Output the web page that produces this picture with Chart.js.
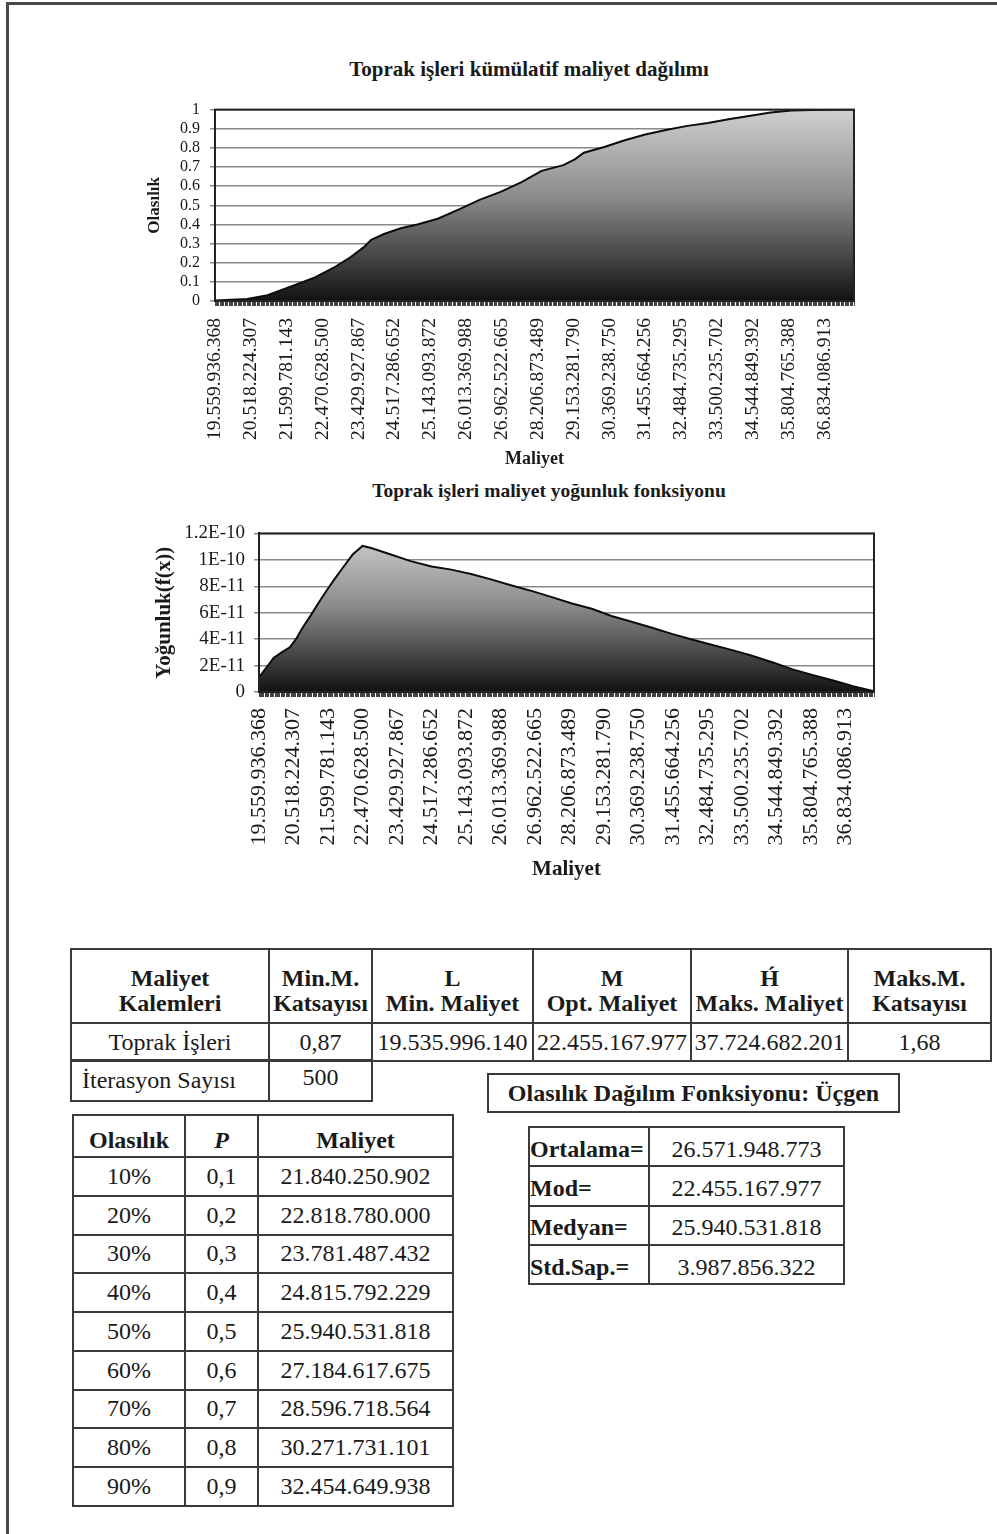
<!DOCTYPE html>
<html lang="tr">
<head>
<meta charset="utf-8">
<title>Toprak işleri maliyet analizi</title>
<script src="https://cdn.jsdelivr.net/npm/chart.js@4.4.1/dist/chart.umd.min.js"></script>
<style>
  html, body { margin: 0; padding: 0; background: #fff; }
  body {
    width: 997px; height: 1534px; position: relative; overflow: hidden;
    font-family: "Liberation Serif", "Times New Roman", serif; color: #1a1a1a;
  }
  .frame {
    position: absolute; left: 6px; top: 2px; right: -20px; bottom: -20px;
    border-left: 3px solid #4a4a4a; border-top: 3px solid #4a4a4a;
  }
  .ctitle {
    position: absolute; font-weight: bold; white-space: nowrap;
    transform: translate(-50%, -50%); line-height: 1;
  }
  .chartbox { position: absolute; left: 0; }
  table { position: absolute; border-collapse: collapse; table-layout: fixed; }
  td { border: 2px solid #3a3a3a; padding: 0; text-align: center; vertical-align: middle; white-space: nowrap; overflow: hidden; }
  .hdr td { font-weight: bold; font-size: 24px; line-height: 25px; padding-top: 10px; }
  .val td { font-size: 24px; }
  #tMain { left: 70px; top: 948px; width: 920px; }
  #tIter { left: 70px; top: 1059px; width: 301px; }
  #tIter td { font-size: 24px; height: 36px; }
  #distBox {
    position: absolute; left: 487px; top: 1073px; width: 409px; height: 36px;
    border: 2px solid #3a3a3a; font-weight: bold; font-size: 24px;
    display: flex; align-items: center; justify-content: center; white-space: nowrap;
  }
  #tPerc { left: 72px; top: 1114px; width: 380px; }
  #tPerc td { font-size: 24px; height: 36.75px; }
  #tPerc tr.hdr td { height: 32px; font-size: 24px; line-height: 26px; padding-top: 8px; }
  #tStat { left: 528px; top: 1126px; width: 315px; }
  #tStat td { font-size: 24px; height: 32.3px; padding-top: 5px; }
  #tStat td.lbl { font-weight: bold; text-align: left; }
</style>
</head>
<body>
<div class="frame"></div>

<div class="ctitle" style="left:529px; top:69px; font-size:21px;">Toprak işleri kümülatif maliyet dağılımı</div>
<div class="chartbox" style="top:90px;"><canvas id="cdfChart" width="997" height="385"></canvas></div>

<div class="ctitle" style="left:549px; top:491px; font-size:19.5px;">Toprak işleri maliyet yoğunluk fonksiyonu</div>
<div class="chartbox" style="top:513px;"><canvas id="pdfChart" width="997" height="382"></canvas></div>

<table id="tMain">
  <colgroup><col style="width:198px"><col style="width:103px"><col style="width:161px"><col style="width:158px"><col style="width:157px"><col style="width:143px"></colgroup>
  <tr class="hdr" style="height:74px">
    <td>Maliyet<br>Kalemleri</td><td>Min.M.<br>Katsayısı</td><td>L<br>Min. Maliyet</td>
    <td>M<br>Opt. Maliyet</td><td>H&#769;<br>Maks. Maliyet</td><td>Maks.M.<br>Katsayısı</td>
  </tr>
  <tr class="val" style="height:38px">
    <td>Toprak İşleri</td><td>0,87</td><td>19.535.996.140</td><td>22.455.167.977</td><td>37.724.682.201</td><td>1,68</td>
  </tr>
</table>

<table id="tIter">
  <colgroup><col style="width:198px"><col style="width:103px"></colgroup>
  <tr><td style="text-align:left; padding-left:10px;">İterasyon Sayısı</td><td style="vertical-align:top; padding-top:3px;">500</td></tr>
</table>

<div id="distBox">Olasılık Dağılım Fonksiyonu: Üçgen</div>

<table id="tPerc">
  <colgroup><col style="width:112px"><col style="width:73px"><col style="width:195px"></colgroup>
  <tr class="hdr"><td>Olasılık</td><td><i>P</i></td><td>Maliyet</td></tr>
  <tr><td>10%</td><td>0,1</td><td>21.840.250.902</td></tr>
  <tr><td>20%</td><td>0,2</td><td>22.818.780.000</td></tr>
  <tr><td>30%</td><td>0,3</td><td>23.781.487.432</td></tr>
  <tr><td>40%</td><td>0,4</td><td>24.815.792.229</td></tr>
  <tr><td>50%</td><td>0,5</td><td>25.940.531.818</td></tr>
  <tr><td>60%</td><td>0,6</td><td>27.184.617.675</td></tr>
  <tr><td>70%</td><td>0,7</td><td>28.596.718.564</td></tr>
  <tr><td>80%</td><td>0,8</td><td>30.271.731.101</td></tr>
  <tr><td>90%</td><td>0,9</td><td>32.454.649.938</td></tr>
</table>

<table id="tStat">
  <colgroup><col style="width:120px"><col style="width:195px"></colgroup>
  <tr><td class="lbl">Ortalama=</td><td>26.571.948.773</td></tr>
  <tr><td class="lbl">Mod=</td><td>22.455.167.977</td></tr>
  <tr><td class="lbl">Medyan=</td><td>25.940.531.818</td></tr>
  <tr><td class="lbl">Std.Sap.=</td><td>3.987.856.322</td></tr>
</table>

<script>
// Simulated cost values shown on the category axis (every 28th sorted sample)
const costLabels = [
  '19.559.936.368', '20.518.224.307', '21.599.781.143', '22.470.628.500',
  '23.429.927.867', '24.517.286.652', '25.143.093.872', '26.013.369.988',
  '26.962.522.665', '28.206.873.489', '29.153.281.790', '30.369.238.750',
  '31.455.664.256', '32.484.735.295', '33.500.235.702', '34.544.849.392',
  '35.804.765.388', '36.834.086.913'
];
const iterations = 500;
const labelEvery = 28;

// Cumulative probability by sample rank
const cdfRank = [0, 25, 41, 61, 77, 93, 106, 116, 122, 132, 145, 158, 174, 191, 207, 223, 239,
  255, 272, 281, 288, 304, 320, 336, 353, 369, 385, 401, 417, 434, 450, 466, 499];
const cdfProb = [0.003, 0.01, 0.03, 0.08, 0.12, 0.175, 0.23, 0.28, 0.32, 0.35, 0.38, 0.40, 0.43,
  0.48, 0.53, 0.57, 0.62, 0.68, 0.71, 0.74, 0.775, 0.805, 0.84, 0.87, 0.895, 0.915, 0.93, 0.95,
  0.967, 0.985, 0.995, 0.998, 1.0];

// Density f(x) by sample rank
const pdfRank = [0, 6, 12, 19, 25, 30, 35, 42, 48, 55, 61, 68, 76, 84, 91, 107, 123, 140, 156,
  172, 189, 205, 221, 237, 254, 270, 286, 303, 319, 335, 352, 368, 384, 400, 417, 433, 449, 466,
  482, 499];
const pdfDensity = [1.1e-11, 1.84e-11, 2.6e-11, 3.04e-11, 3.38e-11, 4.0e-11, 4.8e-11, 5.8e-11,
  6.7e-11, 7.7e-11, 8.5e-11, 9.4e-11, 10.4e-11, 11.05e-11, 10.9e-11, 10.4e-11, 9.9e-11, 9.5e-11,
  9.26e-11, 8.93e-11, 8.5e-11, 8.06e-11, 7.65e-11, 7.2e-11, 6.7e-11, 6.3e-11, 5.75e-11, 5.3e-11,
  4.86e-11, 4.4e-11, 3.96e-11, 3.55e-11, 3.17e-11, 2.74e-11, 2.23e-11, 1.71e-11, 1.28e-11,
  0.87e-11, 0.43e-11, 0.05e-11];

// Value axis ticks
const probTicks = [0, 0.1, 0.2, 0.3, 0.4, 0.5, 0.6, 0.7, 0.8, 0.9, 1];
const probTickLabels = ['0', '0.1', '0.2', '0.3', '0.4', '0.5', '0.6', '0.7', '0.8', '0.9', '1'];
const densTicks = [0, 2e-11, 4e-11, 6e-11, 8e-11, 1e-10, 1.2e-10];
const densTickLabels = ['0', '2E-11', '4E-11', '6E-11', '8E-11', '1E-10', '1.2E-10'];

const FONT = '"Liberation Serif", "Times New Roman", serif';
const INK = '#1a1a1a';

const toPoints = (xs, ys) => xs.map((x, i) => ({ x, y: ys[i] }));

// Grey-to-black vertical shading under the curve
function shade(context) {
  const { chart } = context;
  const area = chart.chartArea;
  if (!area) return '#555';
  const g = chart.ctx.createLinearGradient(0, area.top, 0, area.bottom);
  g.addColorStop(0, '#d0d0d0');
  g.addColorStop(0.45, '#8c8c8c');
  g.addColorStop(1, '#121212');
  return g;
}

// Outline around the plotting area
const plotFrame = {
  id: 'plotFrame',
  afterDatasetsDraw(chart, args, opts) {
    const { ctx, chartArea: a } = chart;
    ctx.save();
    ctx.strokeStyle = opts.color;
    ctx.lineWidth = opts.width;
    ctx.strokeRect(a.left, a.top, a.right - a.left, a.bottom - a.top);
    ctx.restore();
  }
};

function rankAxis(cfg) {
  return {
    type: 'linear',
    min: 0,
    max: iterations - 1,
    afterBuildTicks: axis => {
      axis.ticks = Array.from({ length: iterations }, (_, i) => ({ value: i }));
    },
    afterFit: axis => { axis.height = cfg.height; },
    grid: { drawOnChartArea: false, drawTicks: true, tickLength: 5, color: '#444', lineWidth: 1 },
    border: { display: true, color: '#111', width: 2 },
    ticks: {
      autoSkip: false, minRotation: 90, maxRotation: 90, padding: cfg.pad, color: INK,
      font: { family: FONT, size: cfg.size },
      callback: v => (v % labelEvery === 0 ? costLabels[v / labelEvery] : '')
    },
    title: {
      display: true, text: 'Maliyet', color: INK,
      font: { family: FONT, size: cfg.titleSize, weight: 'bold' },
      padding: { top: 0, bottom: 0 }
    }
  };
}

function valueAxis(cfg) {
  return {
    type: 'linear',
    min: cfg.values[0],
    max: cfg.values[cfg.values.length - 1],
    afterBuildTicks: axis => { axis.ticks = cfg.values.map(v => ({ value: v })); },
    afterFit: axis => { axis.width = cfg.width; },
    grid: { color: '#8a8a8a', lineWidth: 1.5, drawTicks: true, tickLength: 5 },
    border: { display: true, color: '#111', width: 2 },
    ticks: {
      autoSkip: false, padding: cfg.pad, color: INK, font: { family: FONT, size: cfg.size },
      callback: (v, i) => cfg.labels[i]
    },
    title: {
      display: true, text: cfg.title, color: INK,
      font: { family: FONT, size: cfg.titleSize, weight: 'bold' },
      padding: { top: cfg.titlePad, bottom: 0 }
    }
  };
}

function areaChart(id, points, opts) {
  return new Chart(document.getElementById(id), {
    type: 'line',
    data: {
      datasets: [{
        data: points,
        borderColor: '#0d0d0d',
        borderWidth: 2,
        backgroundColor: shade,
        fill: 'origin',
        pointRadius: 0,
        tension: 0
      }]
    },
    options: {
      responsive: false,
      animation: false,
      devicePixelRatio: 1,
      layout: { padding: opts.padding },
      plugins: {
        legend: { display: false },
        tooltip: { enabled: false },
        plotFrame: { color: '#222', width: 2 }
      },
      scales: { x: opts.x, y: opts.y }
    },
    plugins: [plotFrame]
  });
}

areaChart('cdfChart', toPoints(cdfRank, cdfProb), {
  padding: { left: 128, right: 143, top: 0, bottom: 5 },
  x: rankAxis({ height: 169, size: 19.5, pad: 12, titleSize: 18 }),
  y: valueAxis({ values: probTicks, labels: probTickLabels, width: 87, size: 16, pad: 10,
                 title: 'Olasılık', titleSize: 17, titlePad: 16 })
});

areaChart('pdfChart', toPoints(pdfRank, pdfDensity), {
  padding: { left: 140, right: 123, top: 0, bottom: 13 },
  x: rankAxis({ height: 190, size: 22, pad: 11, titleSize: 21 }),
  y: valueAxis({ values: densTicks, labels: densTickLabels, width: 119, size: 19, pad: 9,
                 title: 'Yoğunluk(f(x))', titleSize: 21, titlePad: 12 })
});
</script>
</body>
</html>
